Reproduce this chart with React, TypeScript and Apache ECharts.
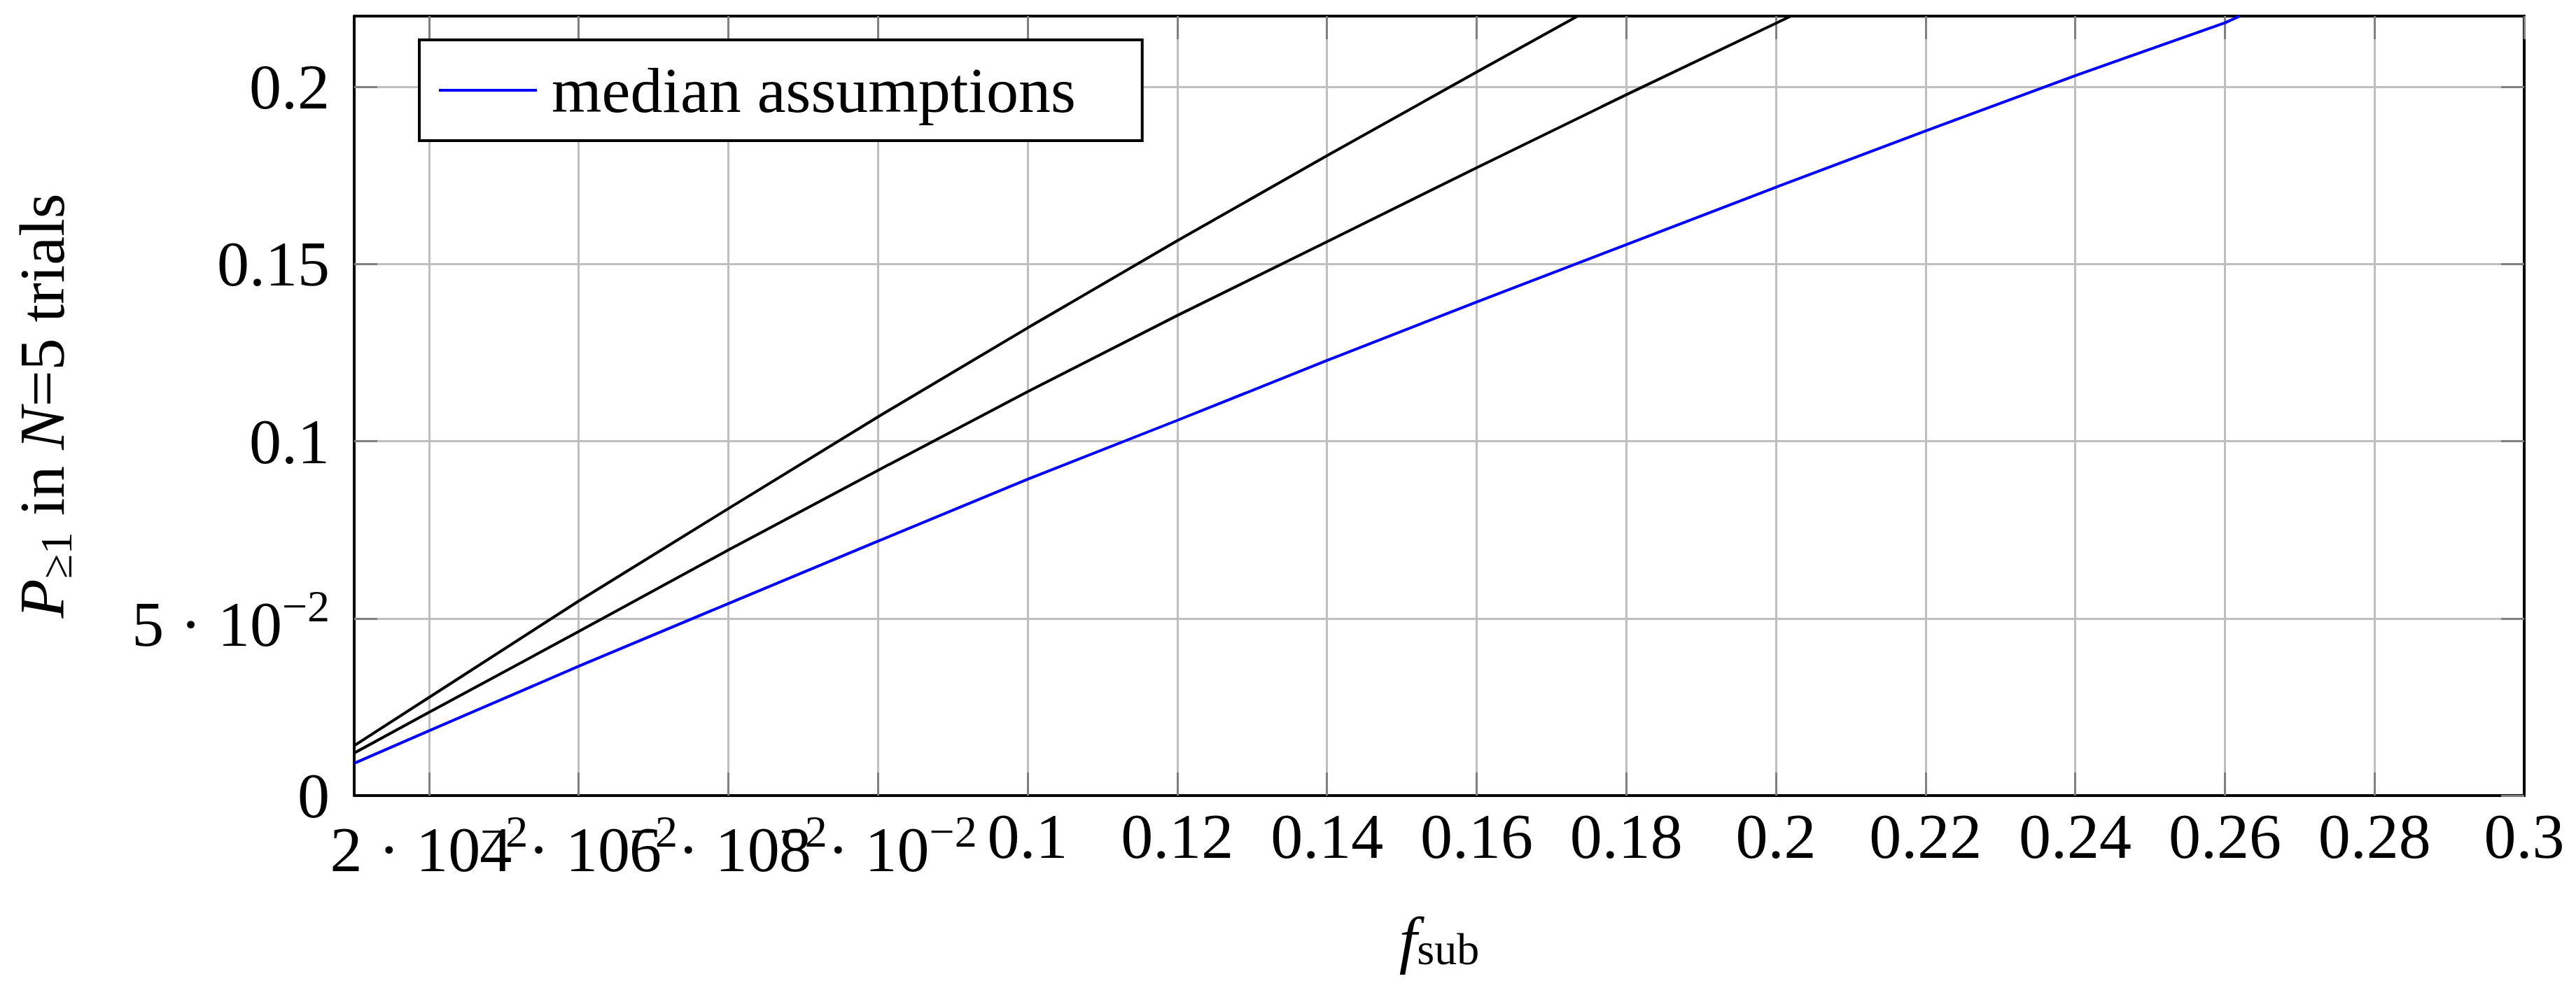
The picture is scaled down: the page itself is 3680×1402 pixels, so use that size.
import React, { useEffect, useRef } from 'react';
import * as echarts from 'echarts';

const FONT = "'Liberation Serif', 'Times New Roman', serif";

// ticks (a label "m^e" is drawn as m with superscript e)
const xTickValues = [0.02, 0.04, 0.06, 0.08, 0.1, 0.12, 0.14, 0.16, 0.18, 0.2, 0.22, 0.24, 0.26, 0.28, 0.3];
const xTickLabels = [
  '2 · 10^−2', '4 · 10^−2', '6 · 10^−2', '8 · 10^−2', '0.1', '0.12', '0.14', '0.16',
  '0.18', '0.2', '0.22', '0.24', '0.26', '0.28', '0.3',
];
const yTickValues = [0, 0.05, 0.1, 0.15, 0.2];
const yTickLabels = ['0', '5 · 10^−2', '0.1', '0.15', '0.2'];

// median assumptions (blue)
const medianX = [0.01, 0.02, 0.04, 0.06, 0.08, 0.1, 0.12, 0.14, 0.16, 0.18, 0.2, 0.22, 0.24, 0.26, 0.262];
const medianY = [0.0091, 0.0183, 0.0365, 0.0542, 0.0718, 0.0893, 0.1059, 0.1228, 0.1393, 0.1555, 0.1717, 0.1876, 0.2032, 0.2181, 0.22];

// upper black curve
const upperX = [0.01, 0.02, 0.04, 0.06, 0.08, 0.1, 0.12, 0.14, 0.16, 0.1735];
const upperY = [0.0141, 0.0277, 0.0549, 0.081, 0.1069, 0.132, 0.1566, 0.1806, 0.2042, 0.22];

// middle black curve
const middleX = [0.01, 0.02, 0.04, 0.06, 0.08, 0.1, 0.12, 0.14, 0.16, 0.18, 0.202];
const middleY = [0.012, 0.0235, 0.0463, 0.0693, 0.0918, 0.114, 0.1355, 0.1563, 0.1772, 0.1978, 0.22];

const zip = (xs: number[], ys: number[]) => xs.map((x, i) => [x, ys[i]]);

const tickFormatter = (values: number[], labels: string[]) => (v: number) => {
  const i = values.findIndex(t => Math.abs(t - v) < 1e-9);
  if (i < 0) return '';
  const [base, exp] = labels[i].split('^');
  return exp ? `{b|${base}}{s|${exp}}` : `{n|${base}}`;
};

const txt = (extra: object = {}) => ({
  fontFamily: FONT,
  fontSize: 92,
  lineHeight: 92,
  color: '#000',
  ...extra,
});

const gridLine = { lineStyle: { color: '#bfbfbf', width: 3 } };
const tick = (values: number[]) => ({
  inside: true,
  length: 33,
  customValues: values,
  lineStyle: { color: '#808080', width: 3 },
});
const frame = { show: true, onZero: false, lineStyle: { color: '#000', width: 4 } };

// the x labels overlap each other (as in the original), so they are split
// over two bottom axes; otherwise echarts drops one of the first two
const xLabelsEven = xTickValues.filter((_, i) => i % 2 === 0);
const xLabelsOdd = xTickValues.filter((_, i) => i % 2 === 1);
const xLabel = (values: number[]) => ({
  customValues: values,
  margin: 12,
  showMinLabel: true,
  showMaxLabel: true,
  hideOverlap: false,
  formatter: tickFormatter(xTickValues, xTickLabels),
  rich: {
    n: txt(),
    b: txt({ padding: [37, 0, 0, 0] }),
    s: txt({ fontSize: 64, padding: [0, 0, 13, 0] }),
  },
});

const App: React.FC = () => {
  const chartRef = useRef<HTMLDivElement>(null);

  useEffect(() => {
    if (!chartRef.current) return;
    document.body.style.margin = '0';
    const chart = echarts.init(chartRef.current, undefined, { renderer: 'svg' });

    const option: echarts.EChartsOption = {
      animation: false,
      backgroundColor: '#fff',
      grid: { left: 502, right: 74, top: 23, bottom: 265, containLabel: false },
      legend: {
        data: ['median assumptions'],
        left: 599,
        top: 57,
        orient: 'vertical',
        padding: [26, 95, 26, 28],
        icon: 'rect',
        itemWidth: 140,
        itemHeight: 4,
        borderColor: '#000',
        borderWidth: 4,
        borderRadius: 0,
        backgroundColor: '#fff',
        selectedMode: false,
        z: 20,
        textStyle: txt({ padding: [0, 0, 0, 16] }),
      },
      xAxis: [
        {
          type: 'value',
          min: 0.01,
          max: 0.3,
          z: 3,
          name: '{i|f}{sb|sub}',
          nameLocation: 'middle',
          nameGap: 160,
          nameMoveOverlap: false,
          nameTextStyle: txt({
            rich: {
              i: txt({ fontStyle: 'italic' }),
              sb: txt({ fontSize: 64, padding: [26, 0, 0, 0] }),
            },
          }),
          axisLine: frame,
          axisTick: tick(xTickValues),
          splitLine: gridLine,
          axisLabel: xLabel(xLabelsEven),
        },
        {
          type: 'value',
          position: 'top',
          min: 0.01,
          max: 0.3,
          z: 4,
          axisLine: frame,
          axisTick: tick(xTickValues),
          axisLabel: { show: false },
          splitLine: { show: false },
        },
        {
          type: 'value',
          position: 'bottom',
          offset: 0,
          min: 0.01,
          max: 0.3,
          z: 3,
          axisLine: { show: false },
          axisTick: { show: false },
          splitLine: { show: false },
          axisLabel: xLabel(xLabelsOdd),
        },
      ],
      yAxis: [
        {
          type: 'value',
          min: 0,
          max: 0.22,
          z: 2,
          name: '{i|P}{sb|≥1}{r| in }{i|N}{r|=5 trials}',
          nameLocation: 'middle',
          nameRotate: 90,
          nameGap: 400,
          nameTextStyle: txt({
            rich: {
              i: txt({ fontStyle: 'italic' }),
              r: txt(),
              sb: txt({ fontSize: 64, padding: [40, 0, 0, 0] }),
            },
          }),
          axisLine: frame,
          axisTick: tick(yTickValues),
          splitLine: gridLine,
          axisLabel: {
            customValues: yTickValues,
            margin: 35,
            showMinLabel: true,
            showMaxLabel: true,
            formatter: tickFormatter(yTickValues, yTickLabels),
            rich: {
              n: txt(),
              b: txt({ padding: [16, 0, 0, 0] }),
              s: txt({ fontSize: 64, padding: [0, 0, 34, 0] }),
            },
          },
        },
        {
          type: 'value',
          position: 'right',
          min: 0,
          max: 0.22,
          z: 4,
          axisLine: frame,
          axisTick: tick(yTickValues),
          axisLabel: { show: false },
          splitLine: { show: false },
        },
      ],
      series: [
        {
          name: 'median assumptions',
          type: 'line',
          data: zip(medianX, medianY),
          symbol: 'none',
          z: 10,
          lineStyle: { color: '#0000ff', width: 4 },
          itemStyle: { color: '#0000ff' },
        },
        {
          name: 'upper',
          type: 'line',
          data: zip(upperX, upperY),
          symbol: 'none',
          z: 10,
          lineStyle: { color: '#000', width: 4 },
          itemStyle: { color: '#000' },
        },
        {
          name: 'middle',
          type: 'line',
          data: zip(middleX, middleY),
          symbol: 'none',
          z: 10,
          lineStyle: { color: '#000', width: 4 },
          itemStyle: { color: '#000' },
        },
      ],
    };

    chart.setOption(option);
    return () => {
      chart.dispose();
    };
  }, []);

  return <div ref={chartRef} style={{ width: 3680, height: 1402 }} />;
};

export default App;
